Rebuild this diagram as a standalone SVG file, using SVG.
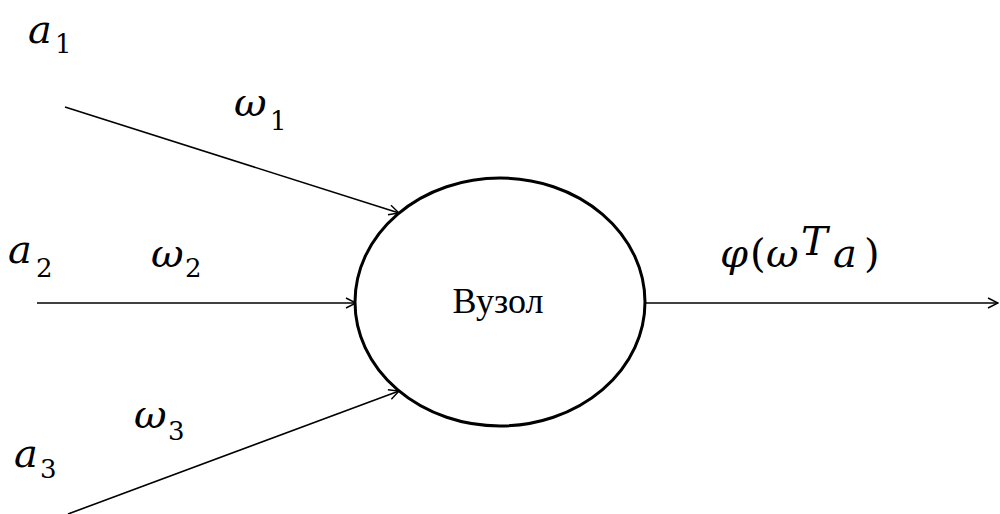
<svg xmlns="http://www.w3.org/2000/svg" width="1000" height="514" viewBox="0 0 1000 514">
<style>
.m{font-family:"DejaVu Serif","Liberation Serif",serif;font-style:italic;font-size:40px;fill:#000}
.sub{font-family:"DejaVu Serif","Liberation Serif",serif;font-size:26px;fill:#000}
.up{font-family:"DejaVu Serif","Liberation Serif",serif;font-size:40px;fill:#000}
.edge{stroke:#000;stroke-width:1.6;fill:none;marker-end:url(#ah)}
</style>
<defs>
<marker id="ah" viewBox="0 0 12 12" refX="11" refY="6" markerWidth="12" markerHeight="12" markerUnits="userSpaceOnUse" orient="auto">
<path d="M1,1 L11,6 L1,11" fill="none" stroke="#000" stroke-width="1.4"/>
</marker>
</defs>
<g id="connectors">
<line class="edge" x1="65" y1="107" x2="399" y2="213"/>
<line class="edge" x1="37" y1="303" x2="356" y2="303"/>
<line class="edge" x1="68" y1="514" x2="399" y2="391"/>
<line class="edge" x1="645" y1="303" x2="998" y2="303"/>
</g>
<g id="node">
<ellipse cx="500" cy="302" rx="145" ry="124" fill="#fff" stroke="#000" stroke-width="3"/>
<text x="498" y="313" text-anchor="middle" font-family="Liberation Serif" font-size="36" fill="#000">Вузол</text>
</g>
<g id="labels">
<text class="m" x="28" y="43">a</text><text class="sub" x="55" y="53">1</text>
<text class="m" x="234" y="116">ω</text><text class="sub" x="270" y="130">1</text>
<text class="m" x="8" y="263">a</text><text class="sub" x="36" y="277">2</text>
<text class="m" x="151" y="267">ω</text><text class="sub" x="185" y="277">2</text>
<text class="m" x="134" y="428">ω</text><text class="sub" x="168" y="440">3</text>
<text class="m" x="14" y="467">a</text><text class="sub" x="40" y="478">3</text>
<g id="output-label">
<text class="m" x="720" y="267">φ</text>
<text class="up" x="750" y="267">(</text>
<text class="m" x="766" y="267">ω</text>
<text class="m" x="801" y="255" font-size="24">T</text>
<text class="m" x="833" y="267">a</text>
<text class="up" x="864" y="267">)</text>
</g>
</g>
</svg>
